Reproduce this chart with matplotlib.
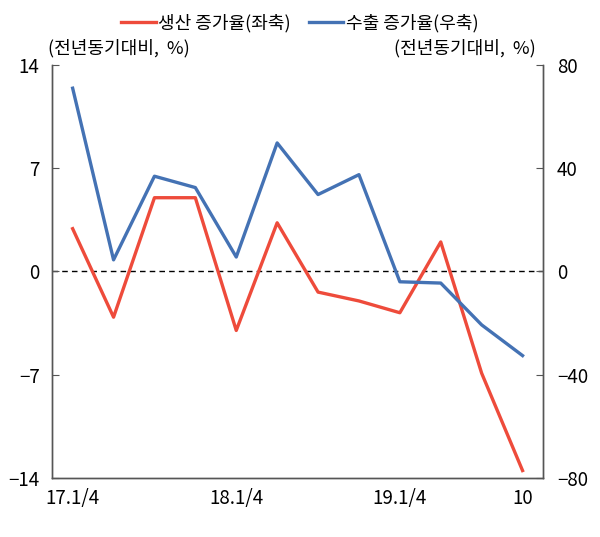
import numpy as np
import matplotlib
matplotlib.use("Agg")
from matplotlib import pyplot as plt

plt.rcParams['font.family'] = ['Noto Sans CJK KR', 'DejaVu Sans']
plt.rcParams['axes.unicode_minus'] = True

# 분기 / 월
periods = ['17.1/4', '17.2/4', '17.3/4', '17.4/4', '18.1/4', '18.2/4', '18.3/4', '18.4/4',
           '19.1/4', '19.2/4', '19.3/4', '10']
prod_growth = [2.9, -3.1, 5.0, 5.0, -4.0, 3.3, -1.4, -2.0, -2.8, 2.0, -6.9, -13.5]
export_growth = [71.0, 4.5, 36.9, 32.5, 5.6, 49.8, 29.8, 37.5, -4.0, -4.5, -20.7, -32.6]
shown_ticks = ['17.1/4', '18.1/4', '19.1/4', '10']

red = '#EE4B3B'
blue = '#4472B4'

fig = plt.figure(figsize=(6, 5.37), dpi=100)
ax = fig.add_axes([0.087, 0.110, 0.818, 0.769])
ax2 = ax.twinx()

x = np.arange(len(periods))
l1, = ax.plot(x, prod_growth, color=red, lw=2.4, label='생산 증가율(좌축)', zorder=3)
l2, = ax2.plot(x, export_growth, color=blue, lw=2.4, label='수출 증가율(우축)', zorder=3)
ax.axhline(0, color='black', lw=1, ls=(0, (4, 3)), zorder=1)

ax.set_xlim(-0.5, len(periods) - 0.5)
ax.set_ylim(-14, 14)
ax.set_yticks([-14, -7, 0, 7, 14])
ax2.set_ylim(-80, 80)
ax2.set_yticks([-80, -40, 0, 40, 80])

ax.set_xticks([periods.index(p) for p in shown_ticks])
ax.set_xticklabels(shown_ticks)

for a in (ax, ax2):
    a.spines['top'].set_visible(False)
    for s in ('left', 'right', 'bottom'):
        a.spines[s].set_color('#555555')
        a.spines[s].set_linewidth(1)
ax.tick_params(axis='y', direction='in', length=5, pad=9, labelsize=13.5, color='#555555')
ax2.tick_params(axis='y', direction='in', length=5, pad=10, labelsize=13.5, color='#555555')
ax.tick_params(axis='x', length=0, pad=7, labelsize=13.5)

fig.text(0.08, 0.893, '(전년동기대비,  %)', fontsize=13, ha='left', va='bottom')
fig.text(0.893, 0.893, '(전년동기대비,  %)', fontsize=13, ha='right', va='bottom')

fig.legend(handles=[l1, l2], loc='upper center', bbox_to_anchor=(0.5, 1.005), ncol=2,
           frameon=False, fontsize=13, handlelength=1.9, handletextpad=0.15, columnspacing=1.0)

fig.savefig('out.png', dpi=100)
